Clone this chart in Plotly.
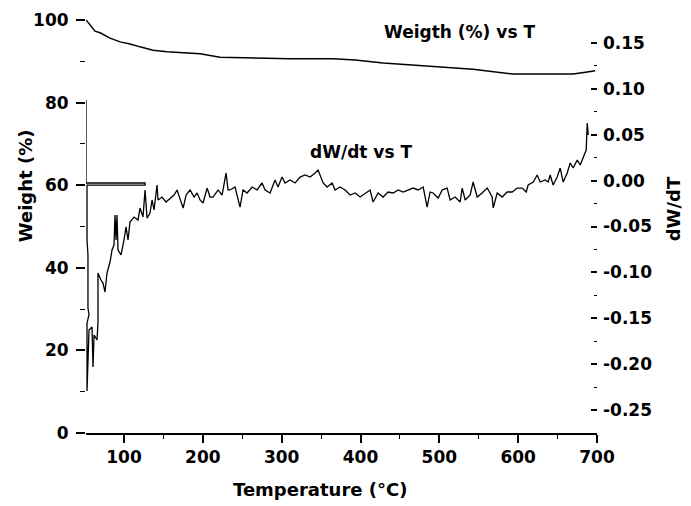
import plotly.graph_objects as go

# ---- Data ----
weight_T = [52.0, 56.9, 63.2, 69.6, 82.3, 95.0, 107.6, 120.3, 136.8, 154.6, 174.9, 196.5,
            221.8, 259.9, 310.7, 365.2, 393.2, 428.7, 501.0, 542.9, 593.7, 669.8, 687.6, 697.7]
weight_pct = [100.0, 98.8, 97.3, 96.9, 95.6, 94.7, 94.2, 93.5, 92.7, 92.3, 92.0, 91.8,
              91.0, 90.8, 90.6, 90.6, 90.3, 89.6, 88.6, 88.1, 86.9, 86.9, 87.4, 87.7]

dwdt_T = [51.8, 51.8, 126.7, 126.7, 53.1, 53.1, 54.3, 54.3, 55.6, 53.1,
          53.1, 55.6, 59.4, 60.7, 62.0, 65.8, 67.0, 67.0, 70.8, 73.4,
          75.9, 78.4, 82.3, 84.8, 87.3, 88.6, 89.9, 91.1, 92.4, 96.2,
          100.0, 102.6, 105.1, 107.6, 112.7, 117.8, 120.3, 124.1, 126.7, 129.2,
          133.0, 135.6, 138.1, 141.9, 143.2, 148.2, 153.3, 158.4, 163.5, 167.3,
          171.1, 175.0, 178.8, 183.8, 188.9, 192.7, 196.5, 200.3, 205.4, 209.2,
          213.0, 219.3, 224.4, 229.5, 232.0, 234.5, 240.9, 247.2, 251.0, 256.1,
          262.5, 268.8, 275.1, 279.0, 285.3, 291.6, 295.4, 300.5, 304.3, 310.7,
          317.0, 323.4, 329.7, 336.1, 342.4, 346.2, 352.6, 357.6, 364.0, 367.8,
          374.1, 380.5, 386.8, 393.2, 399.5, 405.9, 412.2, 416.0, 422.3, 428.7,
          435.0, 441.4, 447.7, 454.1, 460.4, 466.8, 473.1, 479.5, 484.5, 488.3,
          492.1, 498.5, 503.6, 509.9, 513.7, 520.1, 526.4, 529.0, 532.8, 539.1,
          542.9, 548.0, 554.3, 560.7, 567.0, 568.3, 573.4, 579.7, 586.0, 592.4,
          598.7, 605.1, 610.2, 612.7, 619.1, 624.1, 628.0, 634.3, 638.1, 640.6,
          644.4, 649.5, 653.3, 657.1, 662.2, 666.0, 669.8, 674.9, 678.7, 682.5,
          686.3, 687.6, 688.9]
dwdt_val = [0.0878, -0.0026, -0.0026, -0.0050, -0.0050, -0.0647, -0.081, -0.1388, -0.146, -0.1551,
            -0.2292, -0.1627, -0.1595, -0.2031, -0.1682, -0.1737, -0.1541, -0.1007, -0.1083, -0.1116,
            -0.1214, -0.1007, -0.0887, -0.0756, -0.0702, -0.0375, -0.0647, -0.0375, -0.0756, -0.081,
            -0.0647, -0.0505, -0.0647, -0.0451, -0.0397, -0.0429, -0.0299, -0.0397, -0.0102, -0.0408,
            -0.0353, -0.0211, -0.032, -0.0048, -0.0211, -0.0179, -0.0233, -0.019, -0.0157, -0.0102,
            -0.019, -0.0299, -0.0157, -0.0102, -0.0179, -0.0135, -0.0211, -0.0244, -0.0081, -0.0179,
            -0.0179, -0.0102, -0.0157, 0.0083, -0.0102, -0.0102, -0.0070, -0.0288, -0.0102, -0.0135,
            -0.0070, -0.0102, -0.0026, -0.0102, -0.0135, 0.0007, -0.0070, 0.0039, -0.0026, 0.0007,
            -0.0026, 0.0039, 0.0061, 0.0039, 0.0083, 0.0115, -0.0026, -0.0070, -0.0026, -0.0102,
            -0.0070, -0.0102, -0.0157, -0.0135, -0.0179, -0.0135, -0.0102, -0.0233, -0.0135, -0.0179,
            -0.0124, -0.0135, -0.0102, -0.0124, -0.0102, -0.0081, -0.0102, -0.0070, -0.0288, -0.0124,
            -0.0135, -0.019, -0.0102, -0.0081, -0.0211, -0.0179, -0.0233, -0.0081, -0.0211, -0.0157,
            -0.0015, -0.0179, -0.0135, -0.0081, -0.0179, -0.0299, -0.0135, -0.0179, -0.0124, -0.0124,
            -0.0081, -0.0081, -0.0124, -0.0048, -0.0015, 0.0061, -0.0015, 0.0007, -0.0015, 0.0061,
            -0.0048, 0.0039, 0.0137, -0.0015, 0.0083, 0.0192, 0.0137, 0.0224, 0.0170, 0.0246,
            0.0333, 0.0628, 0.0497]

x_ticks = [100, 200, 300, 400, 500, 600, 700]
left_ticks = [0, 20, 40, 60, 80, 100]
right_ticks = [0.15, 0.10, 0.05, 0.00, -0.05, -0.10, -0.15, -0.20, -0.25]
right_ticktext = ["0.15", "0.10", "0.05", "0.00", "-0.05", "-0.10", "-0.15", "-0.20", "-0.25"]

FONT = "DejaVu Sans"
tickfont = dict(family=FONT, size=17, color="black", weight="bold")

fig = go.Figure()
fig.add_trace(go.Scatter(x=weight_T, y=weight_pct, mode="lines",
                         line=dict(color="black", width=1.5), yaxis="y", showlegend=False))
fig.add_trace(go.Scatter(x=dwdt_T, y=dwdt_val, mode="lines",
                         line=dict(color="black", width=1.3), yaxis="y2", showlegend=False))

# The page body adds an 8px offset, so the figure is 8px smaller and margins shifted.
fig.update_layout(
    width=683, height=498,
    margin=dict(l=78, r=94, t=12, b=73),
    paper_bgcolor="white", plot_bgcolor="white",
    xaxis=dict(range=[51.8, 700], tickvals=x_ticks, showgrid=False, zeroline=False,
               automargin=False,
               showline=True, linecolor="black", linewidth=2,
               ticks="outside", ticklen=8, tickwidth=1.5, tickcolor="black",
               tickfont=tickfont,
               minor=dict(dtick=50, tick0=0, ticks="outside", ticklen=4, tickcolor="black", tickwidth=1.2)),
    yaxis=dict(range=[0, 100], tickvals=left_ticks, showgrid=False, zeroline=False,
               automargin=False,
               showline=False, ticks="outside", ticklen=9, tickwidth=1.5, tickcolor="black",
               tickfont=tickfont, ticklabelstandoff=4,
               minor=dict(dtick=10, tick0=0, ticks="outside", ticklen=5, tickcolor="black", tickwidth=1.2)),
    yaxis2=dict(range=[-0.275, 0.175], overlaying="y", side="right", anchor="x",
                automargin=False,
                tickvals=right_ticks, ticktext=right_ticktext, showgrid=False, zeroline=False,
                showline=False, ticks="inside", ticklen=6, tickwidth=1.5, tickcolor="black",
                tickfont=tickfont, ticklabelstandoff=5,
                minor=dict(dtick=0.025, tick0=0, ticks="inside", ticklen=3, tickcolor="black", tickwidth=1.2)),
)

annots = [
    dict(text="Weigth (%) vs T", x=0.730, y=0.971, size=17, angle=0),
    dict(text="dW/dt vs T", x=0.538, y=0.680, size=17, angle=0),
    dict(text="Weight (%)", x=-0.119, y=0.598, size=18, angle=-90),
    dict(text="dW/dT", x=1.149, y=0.542, size=18, angle=-90),
    dict(text="Temperature (°C)", x=0.458, y=-0.138, size=18, angle=0),
]
for a in annots:
    fig.add_annotation(text=a["text"], x=a["x"], y=a["y"], xref="paper", yref="paper",
                       xanchor="center", yanchor="middle", showarrow=False, textangle=a["angle"],
                       font=dict(family=FONT, size=a["size"], color="black", weight="bold"))

fig.write_html("out.html")
